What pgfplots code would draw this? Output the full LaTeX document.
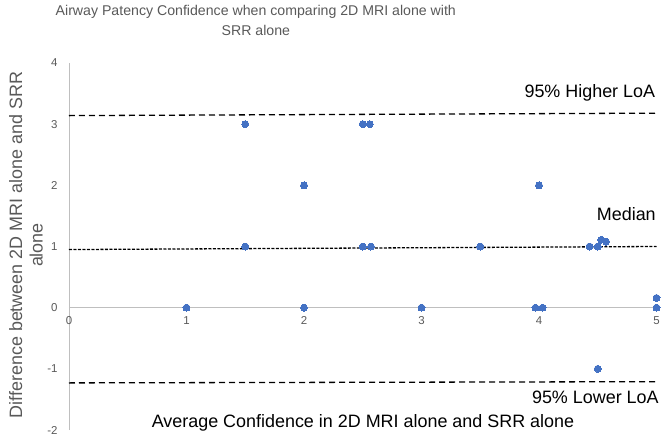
\documentclass[border=0pt]{standalone}
\usepackage{pgfplots}
\pgfplotsset{compat=1.18}
\usepackage{fontspec}
\setmainfont{Liberation Sans}
\definecolor{ptblue}{HTML}{4472C4}
\definecolor{txtgray}{HTML}{595959}
\definecolor{axgray}{HTML}{BFBFBF}
\begin{document}
\begin{tikzpicture}
\path[use as bounding box] (-69bp,-10bp) rectangle (599bp,430bp);
\begin{axis}[
    scale only axis,
    width=587.5bp, height=367bp,
    xmin=0, xmax=5, ymin=-2, ymax=4,
    axis lines=middle,
    axis line style={-, axgray, line width=0.8bp},
    hide obscured x ticks=false, hide obscured y ticks=false,
    xtick={0,1,2,3,4,5}, ytick={-2,-1,0,1,2,3,4},
    major tick length=0pt,
    /pgf/number format/assume math mode=true,
    tick label style={font=\fontsize{11.5}{13}\selectfont, text=txtgray},
    xticklabel style={anchor=north, yshift=-5bp},
    yticklabel style={anchor=east, xshift=-8bp},
    clip=false,
    title={Airway Patency Confidence when comparing 2D MRI alone with\\SRR alone},
    title style={at={(rel axis cs:0.318,1.0995)}, anchor=center, align=center,
        font=\fontsize{14.2}{19.5}\selectfont, text=txtgray},
    xlabel={Average Confidence in 2D MRI alone and SRR alone},
    xlabel style={at={(rel axis cs:0.5004,0.019)}, anchor=center,
        font=\fontsize{18}{20}\selectfont, text=black},
    ylabel={Difference between 2D MRI alone and SRR\\alone},
    ylabel style={at={(rel axis cs:-0.0732,0.504)}, anchor=center, align=center,
        rotate=90, font=\fontsize{18}{20.5}\selectfont, text=txtgray},
]
% limits of agreement and median
\addplot[black, line width=1.3bp, dash pattern=on 6bp off 4bp] coordinates {(0,3.14) (5,3.18)};
\addplot[black, line width=1.3bp, dash pattern=on 3bp off 1.5bp] coordinates {(0,0.95) (5,1.0)};
\addplot[black, line width=1.3bp, dash pattern=on 6bp off 4bp] coordinates {(0,-1.23) (5,-1.21)};

\addplot[only marks, mark=*, mark size=3.5bp, mark options={fill=ptblue, draw=ptblue, line width=0pt}] coordinates {
    (1,0)
    (1.5,3) (1.5,1)
    (2,2) (2,0)
    (2.5,3) (2.56,3) (2.5,1) (2.57,1)
    (3,0)
    (3.5,1)
    (4,2) (3.97,0) (4.03,0)
    (4.43,1) (4.5,1) (4.53,1.11) (4.57,1.08)
    (4.5,-1)
    (5,0) (5,0.16)
};

\node[anchor=east, font=\fontsize{18}{20}\selectfont, inner sep=0pt] at (axis cs:4.99,3.51) {95\% Higher LoA};
\node[anchor=east, font=\fontsize{18}{20}\selectfont, inner sep=0pt] at (axis cs:4.995,1.53) {Median};
\node[anchor=east, font=\fontsize{18}{20}\selectfont, inner sep=0pt] at (axis cs:5.02,-1.46) {95\% Lower LoA};
\end{axis}
\end{tikzpicture}
\end{document}
